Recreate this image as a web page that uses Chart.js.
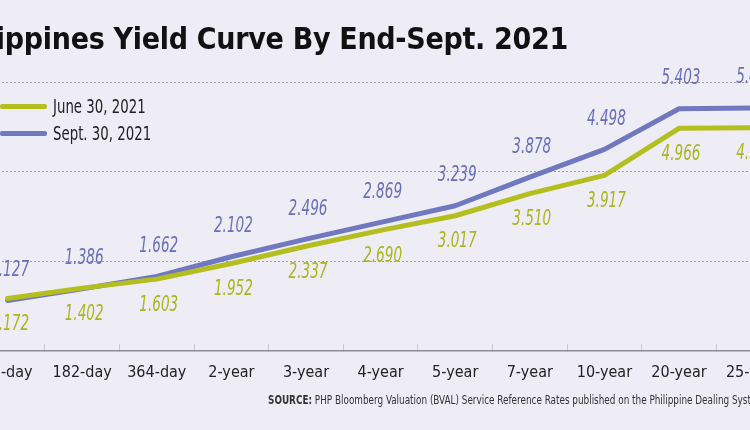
<!DOCTYPE html>
<html>
<head>
<meta charset="utf-8">
<script src="https://cdn.jsdelivr.net/npm/chart.js@4.4.0/dist/chart.umd.min.js"></script>
<style>
  html, body { margin: 0; padding: 0; }
  body { width: 750px; height: 430px; overflow: hidden; position: relative; background: #eeedf6;
         font-family: "DejaVu Sans Condensed", "Liberation Sans Narrow", sans-serif; }
  #wrap { position: absolute; left: -36px; top: 0; width: 836px; height: 430px; }
  #title { position: absolute; right: 182px; top: 19px; white-space: nowrap; font-size: 30px; font-weight: bold;
           color: #111; line-height: 40px; letter-spacing: -0.3px; }
  .leg { position: absolute; left: 0; height: 24px; display: flex; align-items: center; white-space: nowrap; }
  .leg span.sw { display: inline-block; width: 47px; height: 5px; border-radius: 2px; margin-right: 6px; }
  .leg span.tx { display: inline-block; font-size: 19px; color: #222; transform: scaleX(0.78); transform-origin: left center; }
  #source { position: absolute; left: 268px; top: 393px; font-size: 12px; color: #333; white-space: nowrap;
            transform: scaleX(0.82); transform-origin: left center; }
</style>
</head>
<body>
<div id="wrap"><canvas id="c" width="836" height="430"></canvas></div>
<div id="title">Philippines Yield Curve By End-Sept. 2021</div>
<div class="leg" style="top:94px"><span class="sw" style="background:#b4bf1f"></span><span class="tx">June 30, 2021</span></div>
<div class="leg" style="top:121px"><span class="sw" style="background:#7078c0"></span><span class="tx">Sept. 30, 2021</span></div>
<div id="source"><b>SOURCE:</b> PHP Bloomberg Valuation (BVAL) Service Reference Rates published on the Philippine Dealing System</div>
<script>
const tenors = ['91-day','182-day','364-day','2-year','3-year','4-year','5-year','7-year','10-year','20-year','25-year'];
const june30 = [1.172, 1.402, 1.603, 1.952, 2.337, 2.690, 3.017, 3.510, 3.917, 4.966, 4.980];
const sept30 = [1.127, 1.386, 1.662, 2.102, 2.496, 2.869, 3.239, 3.878, 4.498, 5.403, 5.420];
const yTicks = [0, 2, 4, 6];

const FONT = '"DejaVu Sans Condensed", "Liberation Sans Narrow", sans-serif';

const pointLabels = {
  id: 'pointLabels',
  afterDatasetsDraw(chart) {
    const ctx = chart.ctx;
    chart.data.datasets.forEach((ds, i) => {
      const meta = chart.getDatasetMeta(i);
      meta.data.forEach((pt, j) => {
        ctx.save();
        ctx.font = 'italic 21px ' + FONT;
        ctx.fillStyle = ds.labelColor;
        ctx.textAlign = 'center';
        ctx.textBaseline = 'middle';
        ctx.translate(pt.x + 2, pt.y + ds.labelOffset);
        ctx.scale(0.72, 1);
        ctx.fillText(ds.data[j].toFixed(3), 0, 0);
        ctx.restore();
      });
    });
  }
};

new Chart(document.getElementById('c'), {
  type: 'line',
  data: {
    labels: tenors,
    datasets: [
      { label: 'June 30, 2021', data: june30, borderColor: '#b4bf1f', borderWidth: 5, pointRadius: 0,
        tension: 0, labelColor: '#aab61c', labelOffset: 26, borderCapStyle: 'round', borderJoinStyle: 'round' },
      { label: 'Sept. 30, 2021', data: sept30, borderColor: '#7078c0', borderWidth: 5, pointRadius: 0,
        tension: 0, labelColor: '#6870bd', labelOffset: -30, borderCapStyle: 'round', borderJoinStyle: 'round' }
    ]
  },
  options: {
    responsive: false,
    animation: false,
    layout: { padding: { top: 82, left: 0, right: 0, bottom: 0 } },
    plugins: { legend: { display: false }, tooltip: { enabled: false } },
    scales: {
      x: {
        offset: true,
        grid: { offset: true, drawOnChartArea: false, drawTicks: true, tickLength: -7,
                tickColor: '#a5a5b0', tickBorderDash: [1, 1], tickWidth: 1 },
        border: { display: true, color: '#8c8c96', width: 1.5 },
        ticks: { color: '#222', font: { family: FONT, size: 16 }, padding: 19, maxRotation: 0, autoSkip: false },
        afterFit(scale) { scale.height = 79; }
      },
      y: {
        min: 0, max: 6,
        afterBuildTicks(scale) { scale.ticks = yTicks.map(v => ({ value: v })); },
        ticks: { display: false },
        grid: { drawTicks: false, color: ctx => ctx.tick && ctx.tick.value === 0 ? 'rgba(0,0,0,0)' : '#9c9ca8', lineWidth: 1 },
        border: { display: false, dash: [2, 2] },
        afterFit(scale) { scale.width = 0; }
      }
    }
  },
  plugins: [pointLabels]
});
</script>
</body>
</html>
